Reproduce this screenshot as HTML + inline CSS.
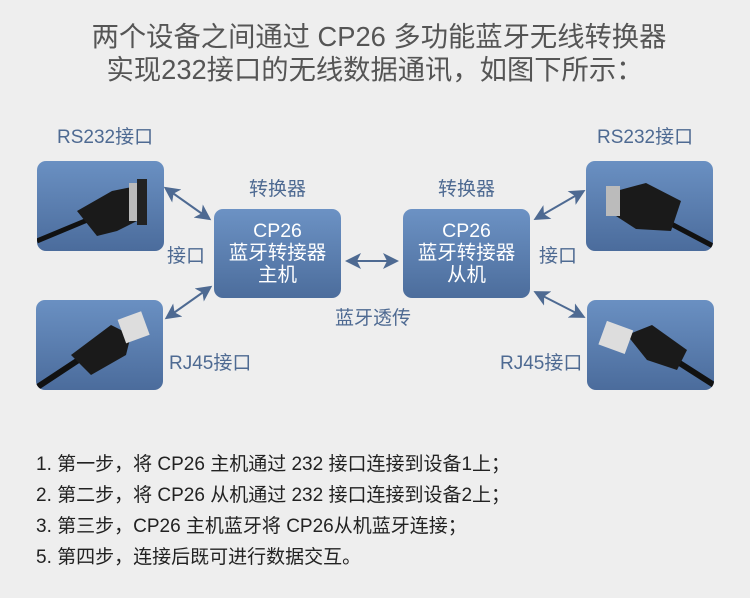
<!DOCTYPE html>
<html><head><meta charset="utf-8"><style>
body{margin:0;width:750px;height:598px;background:#eeeeee;position:relative;overflow:hidden;font-family:"Liberation Sans","Noto Sans CJK SC",sans-serif}
.t{position:absolute;left:0;width:750px;text-align:center;color:#555;font-size:27.3px;line-height:32px}
.l{position:absolute;color:#4e6a92;font-size:19px;line-height:22px;white-space:nowrap}
.img{position:absolute;width:127px;height:90px;border-radius:9px;background:linear-gradient(#6a90c2,#4b6c9c);overflow:hidden}
.box{position:absolute;width:127px;height:89px;border-radius:9px;background:linear-gradient(#6c92c4,#4c6d9c);color:#fff;font-size:19.5px;line-height:22px;text-align:center;padding-top:11px;box-sizing:border-box}
.s{position:absolute;left:36px;color:#222;font-size:19px;line-height:22px;white-space:nowrap}
</style></head><body>
<div class="t" style="top:21px;left:4px">两个设备之间通过 CP26 多功能蓝牙无线转换器</div>
<div class="t" style="top:54px">实现232接口的无线数据通讯，如图下所示：</div>
<div class="l" style="left:57px;top:127px">RS232接口</div>
<div class="l" style="left:597px;top:127px">RS232接口</div>
<div class="l" style="left:249px;top:179px">转换器</div>
<div class="l" style="left:438px;top:179px">转换器</div>
<div class="l" style="left:167px;top:246px">接口</div>
<div class="l" style="left:539px;top:246px">接口</div>
<div class="l" style="left:335px;top:308px">蓝牙透传</div>
<div class="l" style="left:169px;top:353px">RJ45接口</div>
<div class="l" style="left:500px;top:353px">RJ45接口</div>

<div class="img" style="left:37px;top:161px"><svg width="127" height="90"><path d="M0 80 L60 55" stroke="#111" stroke-width="5"/><path d="M40 50 L75 30 L100 25 L110 55 L80 70 L60 75Z" fill="#1a1a1a"/><rect x="92" y="22" width="18" height="38" fill="#bbb"/><rect x="100" y="18" width="10" height="46" fill="#222"/></svg></div>
<div class="img" style="left:36px;top:300px"><svg width="127" height="90"><path d="M0 88 L50 55" stroke="#111" stroke-width="6"/><path d="M35 55 L75 25 L95 35 L90 55 L55 75Z" fill="#1a1a1a"/><rect x="85" y="15" width="25" height="25" fill="#ddd" transform="rotate(-20 97 27)"/></svg></div>
<div class="img" style="left:586px;top:161px"><svg width="127" height="90"><path d="M127 85 L70 55" stroke="#111" stroke-width="5"/><path d="M30 30 L60 22 L95 40 L85 70 L50 68 L30 55Z" fill="#1a1a1a"/><rect x="20" y="25" width="14" height="30" fill="#bbb"/></svg></div>
<div class="img" style="left:587px;top:300px"><svg width="127" height="90"><path d="M127 85 L80 55" stroke="#111" stroke-width="6"/><path d="M40 35 L65 25 L100 50 L90 70 L60 60Z" fill="#1a1a1a"/><rect x="15" y="25" width="28" height="25" fill="#ddd" transform="rotate(20 29 37)"/></svg></div>

<div class="box" style="left:214px;top:209px">CP26<br>蓝牙转接器<br>主机</div>
<div class="box" style="left:403px;top:209px">CP26<br>蓝牙转接器<br>从机</div>

<svg width="750" height="598" style="position:absolute;left:0;top:0">
<defs><marker id="a" markerWidth="8" markerHeight="8" refX="6" refY="4" orient="auto-start-reverse"><path d="M0 0 L8 4 L0 8 L2 4Z" fill="#4e6a92"/></marker></defs>
<g stroke="#4e6a92" stroke-width="2" marker-start="url(#a)" marker-end="url(#a)">
<line x1="167" y1="189" x2="208" y2="218"/>
<line x1="209" y1="288" x2="168" y2="317"/>
<line x1="349" y1="261" x2="395" y2="261"/>
<line x1="537" y1="218" x2="582" y2="192"/>
<line x1="537" y1="293" x2="582" y2="316"/>
</g></svg>

<div class="s" style="top:454px">1. 第一步，将 CP26 主机通过 232 接口连接到设备1上；</div>
<div class="s" style="top:485px">2. 第二步，将 CP26 从机通过 232 接口连接到设备2上；</div>
<div class="s" style="top:516px">3. 第三步，CP26 主机蓝牙将 CP26从机蓝牙连接；</div>
<div class="s" style="top:547px">5. 第四步，连接后既可进行数据交互。</div>
</body></html>
